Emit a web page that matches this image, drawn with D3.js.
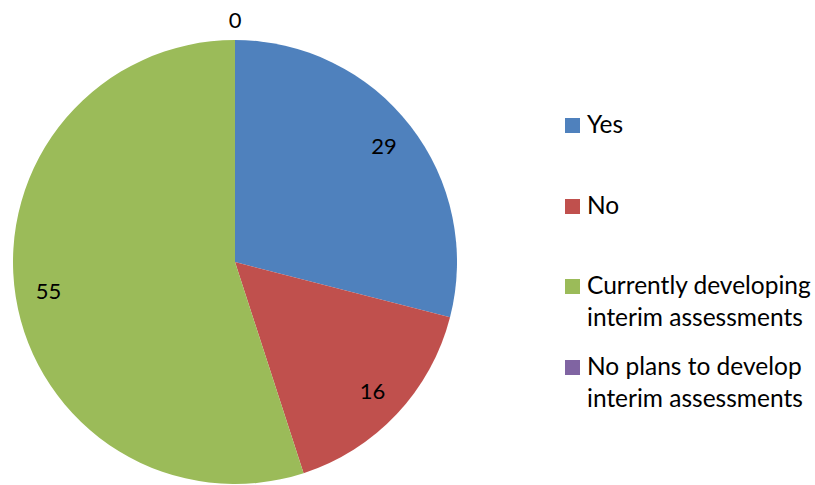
<!DOCTYPE html>
<html><head><meta charset="utf-8">
<script src="https://cdn.jsdelivr.net/npm/d3@7"></script>
<style>body{margin:0;background:#fff}svg{display:block}text{font-family:Lato,"Open Sans",sans-serif;fill:#000}</style>
</head><body>
<script>
const categories = ["Yes", "No", "Currently developing interim assessments", "No plans to develop interim assessments"];
const legendLines = [["Yes"], ["No"], ["Currently developing", "interim assessments"], ["No plans to develop", "interim assessments"]];
const values = [29, 16, 55, 0];
const colors = ["#4F81BD", "#C0504D", "#9BBB59", "#8064A2"];

const W = 815, H = 485;
const svg = d3.select("body").append("svg").attr("width", W).attr("height", H);
const cx = 235, cy = 262, R = 222;
const g = svg.append("g").attr("transform", `translate(${cx},${cy})`);
const pie = d3.pie().sort(null).value(d => d)(values);
const arc = d3.arc().innerRadius(0).outerRadius(R);
g.selectAll("path").data(pie).enter().append("path")
  .attr("d", arc).attr("fill", (d, i) => colors[i]);

const labelArc = d3.arc().innerRadius(R * 0.85).outerRadius(R * 0.85);
const outerArc = d3.arc().innerRadius(R + 20).outerRadius(R + 20);
g.selectAll("text.lbl").data(pie).enter().append("text")
  .attr("class", "lbl")
  .attr("text-anchor", "middle")
  .attr("font-size", 22)
  .attr("dy", "0.35em")
  .attr("transform", d => {
    const c = (d.data === 0 ? outerArc : labelArc).centroid(d);
    return `translate(${c[0]},${c[1]})`;
  })
  .text(d => d.data);

const legY = [118, 199, 279, 360];
const leg = svg.append("g");
legendLines.forEach((lines, i) => {
  leg.append("rect").attr("x", 565).attr("y", legY[i]).attr("width", 15).attr("height", 15).attr("fill", colors[i]);
  lines.forEach((t, j) => {
    leg.append("text").attr("x", 587).attr("y", legY[i] + 15 + j * 32)
      .attr("font-size", 24.5).text(t);
  });
});
</script>
</body></html>
